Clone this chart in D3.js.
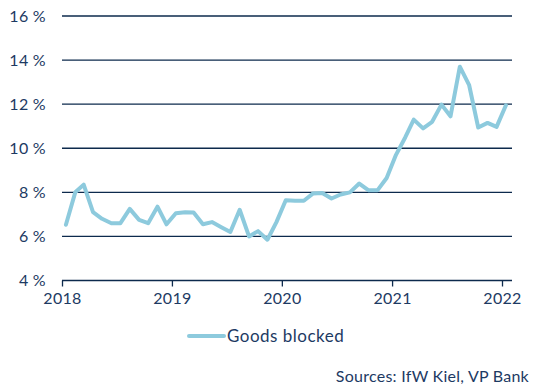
<!DOCTYPE html>
<html>
<head>
<meta charset="utf-8">
<script src="https://cdn.jsdelivr.net/npm/d3@7"></script>
<style>
  html, body { margin: 0; padding: 0; background: #fff; }
  svg { display: block; font-family: Lato, "Open Sans", sans-serif; }
</style>
</head>
<body>
<svg id="chart" width="538" height="391"></svg>
<script>
// Monthly values, Jan 2018 – Jan 2022 (%)
const startYear = 2018;
const goodsBlocked = [
  6.53, 8.0, 8.35, 7.1, 6.8, 6.6, 6.6, 7.25, 6.75, 6.6, 7.35, 6.55,
  7.05, 7.1, 7.08, 6.55, 6.65, 6.42, 6.2, 7.21, 6.0, 6.24, 5.85, 6.65,
  7.64, 7.62, 7.62, 7.95, 7.97, 7.72, 7.9, 8.0, 8.4, 8.1, 8.1, 8.65,
  9.7, 10.5, 11.3, 10.9, 11.2, 11.98, 11.45, 13.7, 12.86, 10.94, 11.15, 10.97,
  11.95
];
const yTicks = [4, 6, 8, 10, 12, 14, 16];
const xTickYears = [2018, 2019, 2020, 2021, 2022];
const seriesName = "Goods blocked";
const sourceText = "Sources: IfW Kiel, VP Bank";

const navy = "#0d2a4d";
const textColor = "#1d3a63";
const lineColor = "#8dcadd";
const fontFam = "Lato, 'Open Sans', sans-serif";

const svg = d3.select("#chart");
const mLeft = 62, mRight = 512, mTop = 16, mBottom = 280.5;

const data = goodsBlocked.map((v, i) => ({
  date: new Date(startYear, i, 14),
  value: v
}));

const x = d3.scaleTime()
  .domain([new Date(2018, 0, 1), new Date(2022, 0, 1)])
  .range([mLeft, 502]);
const y = d3.scaleLinear().domain([4, 16]).range([mBottom, mTop]);

// gridlines
svg.append("g").selectAll("line")
  .data(yTicks.filter(d => d !== 4))
  .join("line")
  .attr("x1", mLeft).attr("x2", mRight)
  .attr("y1", d => y(d)).attr("y2", d => y(d))
  .attr("stroke", navy).attr("stroke-width", 1.3);

// y labels
svg.append("g").selectAll("text")
  .data(yTicks)
  .join("text")
  .attr("x", 46).attr("y", d => y(d))
  .attr("dy", "0.36em")
  .attr("text-anchor", "end")
  .attr("fill", textColor)
  .attr("font-size", 16)
  .attr("letter-spacing", 0.3)
  .text(d => d + " %");

// x axis
const xAxis = d3.axisBottom(x)
  .tickValues(xTickYears.map(yr => new Date(yr, 0, 1)))
  .tickFormat(d3.timeFormat("%Y"))
  .tickSize(6)
  .tickSizeOuter(0);
const gx = svg.append("g")
  .attr("transform", `translate(0,${mBottom})`)
  .call(xAxis);
gx.select(".domain").remove();
gx.append("line").attr("x1", mLeft).attr("x2", mRight)
  .attr("stroke", navy).attr("stroke-width", 1.3);
gx.selectAll(".tick line").attr("stroke", navy).attr("stroke-width", 1.3);
gx.selectAll(".tick text")
  .attr("fill", textColor)
  .attr("font-size", 16)
  .attr("letter-spacing", 0.3)
  .attr("font-family", fontFam)
  .attr("y", 12);

// line
const line = d3.line().x(d => x(d.date)).y(d => y(d.value)).curve(d3.curveLinear);
svg.append("path")
  .datum(data)
  .attr("d", line)
  .attr("fill", "none")
  .attr("stroke", lineColor)
  .attr("stroke-width", 4)
  .attr("stroke-linejoin", "round")
  .attr("stroke-linecap", "round");

// legend
svg.append("line")
  .attr("x1", 189).attr("x2", 224)
  .attr("y1", 336).attr("y2", 336)
  .attr("stroke", lineColor).attr("stroke-width", 4)
  .attr("stroke-linecap", "round");
svg.append("text")
  .attr("x", 227).attr("y", 342)
  .attr("fill", textColor).attr("font-size", 17)
  .attr("letter-spacing", 0.5)
  .text(seriesName);

// source
svg.append("text")
  .attr("x", 529).attr("y", 382)
  .attr("text-anchor", "end")
  .attr("fill", textColor).attr("font-size", 16)
  .attr("letter-spacing", 0.25)
  .text(sourceText);
</script>
</body>
</html>
